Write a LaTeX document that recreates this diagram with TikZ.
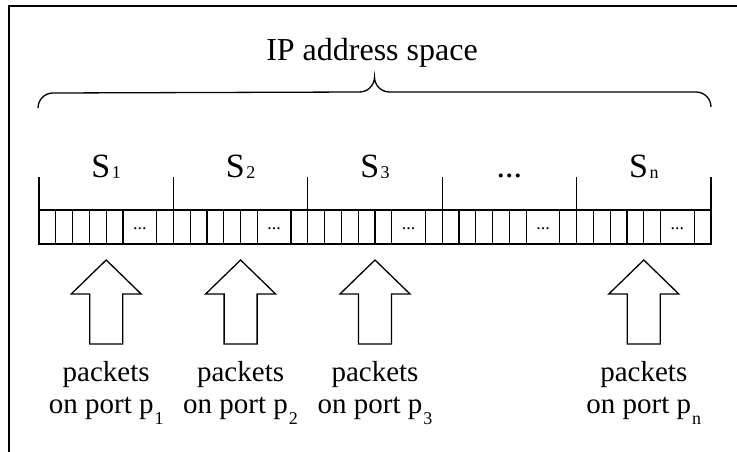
\documentclass[tikz,border=0pt]{standalone}
\usepackage{fontspec}
\setmainfont{Liberation Serif}
\newcommand\segsub[1]{\kern1.5pt\raisebox{-1.5pt}{\fontsize{18}{18}\selectfont #1}}
\newcommand\portsub[1]{\kern1pt\raisebox{-11pt}{\fontsize{18}{18}\selectfont #1}}
\begin{document}
\begin{tikzpicture}[x=1pt,y=-1pt,line join=miter,
  frameline/.style={line width=2.6pt},
  thinline/.style={line width=1.3pt},
  lbl/.style={inner sep=0pt,anchor=base},
  titlefont/.style={font=\fontsize{32}{36}\selectfont},
  segfont/.style={font=\fontsize{34}{38}\selectfont},
  cellfont/.style={font=\fontsize{18}{20}\selectfont},
  portfont/.style={font=\fontsize{29}{32}\selectfont},
]
\useasboundingbox (0,0) rectangle (737,452);

% outer frame (top and left edges)
\draw[frameline] (737,6) -- (9,6) -- (9,452);

% title and brace
\node[lbl,titlefont] (title) at (372,61) {IP address space};
\coordinate (bl) at (38,108);
\coordinate (br) at (711,108);
\coordinate (btip) at (374.5,77);
\draw[thinline] (bl) arc[start angle=180,end angle=270,radius=15]
  -- (359.5,92) arc[start angle=90,end angle=0,radius=15]
  arc[start angle=180,end angle=90,radius=15]
  -- (696,92) arc[start angle=-90,end angle=0,radius=15];

% address row: five segments of eight cell units each
\draw[thinline] (39,210) rectangle (711,244);
\foreach \g in {0,...,4}{
  \foreach \k in {1,2,3,4,5,7}{
    \pgfmathsetmacro\cx{39+\g*134.4+\k*16.8}
    \draw[thinline] (\cx,210) -- (\cx,244);
  }
  \pgfmathsetmacro\dx{39+\g*134.4+6*16.8}
  \node[lbl,cellfont] (cd\g) at (\dx,229) {...};
}
\foreach \g in {0,...,5}{
  \pgfmathsetmacro\tx{39+\g*134.4}
  \draw[thinline] (\tx,177) -- (\tx,244);
}

% segment labels
\node[lbl,segfont] (s1) at (106.2,177.5) {S\segsub{1}};
\node[lbl,segfont] (s2) at (240.6,177.5) {S\segsub{2}};
\node[lbl,segfont] (s3) at (375.0,177.5) {S\segsub{3}};
\node[lbl,segfont] (s4) at (509.4,177.5) {...};
\node[lbl,segfont] (s5) at (643.8,177.5) {S\segsub{n}};

% block arrows with port labels
\foreach \cx/\p [count=\i] in {106.2/1,240.6/2,375.0/3,643.8/n}{
  \coordinate (tip\i) at (\cx,260);
  \draw[thinline] (tip\i) -- ++(35,34) -- ++(-18.5,0) -- ++(0,50)
    -- ++(-33,0) -- ++(0,-50) -- ++(-18.5,0) -- cycle;
  \node[lbl,portfont] (pa\i) at (\cx,381) {packets};
  \node[lbl,portfont] (pb\i) at (\cx,413) {on port p\portsub{\p}};
}
\end{tikzpicture}
\end{document}
